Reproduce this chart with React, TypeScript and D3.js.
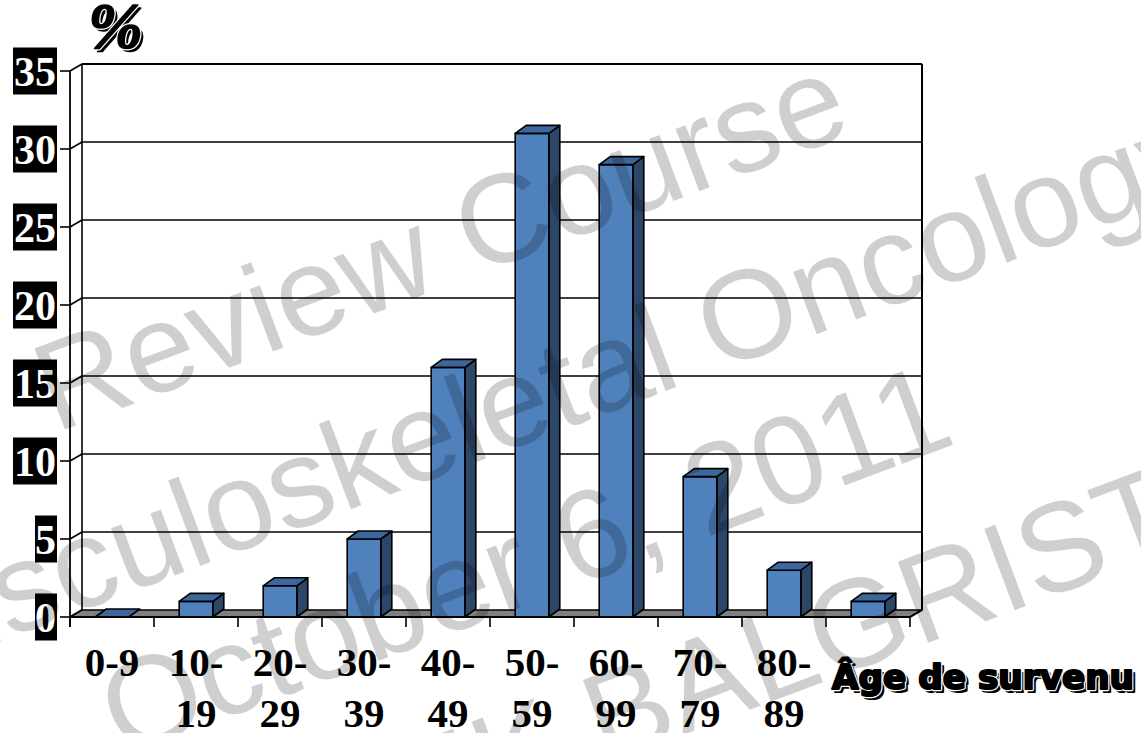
import React from "react";
import * as d3 from "d3";

// Age-at-onset distribution (percent of cases)
const categories = ["0-9", "10-19", "20-29", "30-39", "40-49", "50-59", "60-99", "70-79", "80-89", "90-99"];
const values = [0, 1, 2, 5, 16, 31, 29, 9, 3, 1];
// Two-line tick labels; the last band carries no label
const labelTop = ["0-9", "10-", "20-", "30-", "40-", "50-", "60-", "70-", "80-", ""];
const labelBottom = ["", "19", "29", "39", "49", "59", "99", "79", "89", ""];
const yTicks = [0, 5, 10, 15, 20, 25, 30, 35];
const watermarkLines = ["Review Course", "Musculoskeletal Oncology", "October 6, 2011", "CHUK BALGRIST"];

const W = 1141;
const H = 733;

// Heavy text with a drop shadow and a thin white rim around the front glyphs
function ShadowText(props: {
  x: number;
  y: number;
  text: string;
  fontFamily: string;
  fontSize: number;
  fontStyle?: string;
  textLength?: number;
  off: number;
  fatten: number;
}) {
  const { x, y, text, fontFamily, fontSize, fontStyle, textLength, off, fatten } = props;
  const common: any = {
    fontFamily,
    fontSize,
    fontWeight: "bold",
    fontStyle,
    strokeLinejoin: "round",
  };
  if (textLength) {
    common.textLength = textLength;
    common.lengthAdjust = "spacingAndGlyphs";
  }
  return (
    <g>
      <text x={x + off} y={y + off} fill="#000" stroke="#000" strokeWidth={fatten} {...common}>
        {text}
      </text>
      <text x={x} y={y} fill="#000" stroke="#fff" strokeWidth={fatten + 2.4} {...common}>
        {text}
      </text>
      <text x={x} y={y} fill="#000" stroke="#000" strokeWidth={fatten} {...common}>
        {text}
      </text>
    </g>
  );
}

export default function App() {
  const x = d3.scaleBand<string>().domain(categories).range([70, 910]).paddingInner(0).paddingOuter(0);
  const y = d3.scaleLinear().domain([0, 35]).range([617, 71]);

  // wall depth offset and bar depth offset
  const wdx = 12, wdy = -7;
  const bdx = 11, bdy = -8;
  const barW = x.bandwidth() * 0.4;

  const x0 = x.range()[0];
  const x1 = x.range()[1];
  const yTop = y(35);
  const y0 = y(0);

  const serif = "'Liberation Serif', 'Times New Roman', serif";
  const sans = "'Liberation Sans', Arial, sans-serif";

  const pts = (arr: [number, number][]) => arr.map((p) => p.join(",")).join(" ");

  const wmCenters: [number, number][] = [
    [455, 283],
    [530, 442],
    [540, 600],
    [712, 724],
  ];

  return (
    <svg width={W} height={H} style={{ position: "absolute", left: 0, top: 0, background: "#fff" }}>
      {/* back wall */}
      <rect x={x0 + wdx} y={yTop + wdy} width={x1 - x0} height={y0 - yTop} fill="#fff" />
      {yTicks.map((t) => (
        <g key={"g" + t}>
          {t > 0 && (
            <line x1={x0 + wdx} x2={x1 + wdx} y1={y(t) + wdy} y2={y(t) + wdy} stroke="#000" strokeWidth={t === 35 ? 2 : 1.6} />
          )}
          <line x1={x0} x2={x0 + wdx} y1={y(t)} y2={y(t) + wdy} stroke="#000" strokeWidth={1.6} />
          <line x1={x0 - 10} x2={x0} y1={y(t)} y2={y(t)} stroke="#000" strokeWidth={1.6} />
        </g>
      ))}
      {/* left wall back edge and right wall edge */}
      <line x1={x0 + wdx} x2={x0 + wdx} y1={yTop + wdy} y2={y0 + wdy} stroke="#000" strokeWidth={1.6} />
      <line x1={x1 + wdx} x2={x1 + wdx} y1={yTop + wdy} y2={y0 + wdy} stroke="#000" strokeWidth={2} />

      {/* floor */}
      <polygon
        points={pts([
          [x0, y0],
          [x1, y0],
          [x1 + wdx, y0 + wdy],
          [x0 + wdx, y0 + wdy],
        ])}
        fill="#808080"
        stroke="#000"
        strokeWidth={1.6}
        strokeLinejoin="round"
      />

      {/* bars */}
      {categories.map((c, i) => {
        const cx = (x(c) as number) + x.bandwidth() / 2;
        const l = cx - barW / 2;
        const r = cx + barW / 2;
        const top = y(values[i]);
        const front = pts([
          [l, y0],
          [r, y0],
          [r, top],
          [l, top],
        ]);
        const side = pts([
          [r, y0],
          [r + bdx, y0 + bdy],
          [r + bdx, top + bdy],
          [r, top],
        ]);
        const cap = pts([
          [l, top],
          [r, top],
          [r + bdx, top + bdy],
          [l + bdx, top + bdy],
        ]);
        return (
          <g key={c} stroke="#000" strokeWidth={1.6} strokeLinejoin="round">
            {values[i] > 0 && <polygon points={side} fill="#2B4669" />}
            {values[i] > 0 && <polygon points={front} fill="#4F81BD" />}
            <polygon points={cap} fill="#3D679C" />
          </g>
        );
      })}

      {/* front axes */}
      <line x1={x0} x2={x0} y1={yTop} y2={y0 + 10} stroke="#000" strokeWidth={1.8} />
      <line x1={x0} x2={x1} y1={y0} y2={y0} stroke="#000" strokeWidth={1.8} />
      <line x1={x1} x2={x1 + wdx} y1={y0} y2={y0 + wdy} stroke="#000" strokeWidth={1.6} />
      {categories.map((c) => (
        <line key={"t" + c} x1={x(c)} x2={x(c)} y1={y0} y2={y0 + 10} stroke="#000" strokeWidth={1.6} />
      ))}
      <line x1={x1} x2={x1} y1={y0} y2={y0 + 10} stroke="#000" strokeWidth={1.6} />

      {/* y tick labels: white on black */}
      {yTicks.map((t) => {
        const s = String(t);
        const bw = 22 * s.length;
        return (
          <g key={"yl" + t}>
            <rect x={57 - bw} y={y(t) - 23.5} width={bw} height={47} fill="#000" />
            <text x={56} y={y(t) + 15} textAnchor="end" fill="#fff" fontFamily={serif} fontWeight="bold" fontSize={42}>
              {s}
            </text>
          </g>
        );
      })}

      {/* x tick labels */}
      {categories.map((c, i) => {
        const cx = (x(c) as number) + x.bandwidth() / 2;
        return (
          <g key={"xl" + c} fontFamily={serif} fontWeight="bold" fontSize={41} textAnchor="middle" fill="#000">
            <text x={cx} y={676}>{labelTop[i]}</text>
            <text x={cx} y={727}>{labelBottom[i]}</text>
          </g>
        );
      })}

      {/* axis titles */}
      <ShadowText x={88} y={48} text="%" fontFamily={serif} fontStyle="italic" fontSize={66} off={3} fatten={1.5} />
      <ShadowText
        x={832}
        y={689}
        text="Âge de survenu"
        fontFamily="'DejaVu Sans', Verdana, sans-serif"
        fontSize={34}
        textLength={302}
        off={3}
        fatten={2.2}
      />

      {/* watermark */}
      <g fontFamily={sans} fontSize={126} fill="#000" fillOpacity={0.19} textAnchor="middle">
        {watermarkLines.map((s, i) => (
          <text key={s} transform={`translate(${wmCenters[i][0]},${wmCenters[i][1]}) rotate(-20.6)`}>
            {s}
          </text>
        ))}
      </g>
    </svg>
  );
}
